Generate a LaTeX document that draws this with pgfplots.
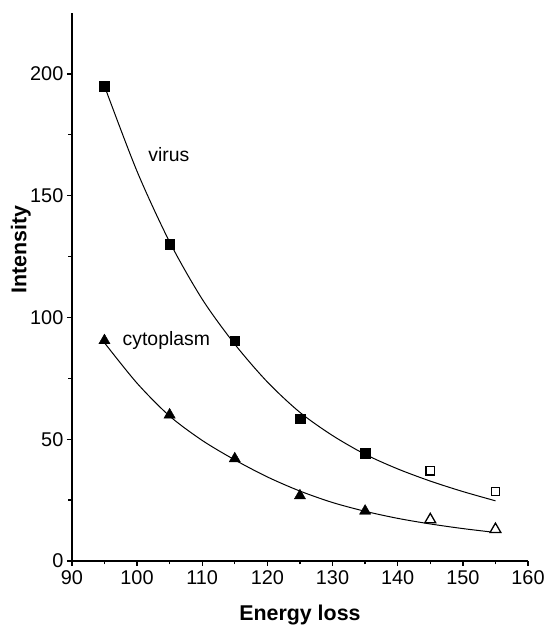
\documentclass[border=0pt]{standalone}
\usepackage{fontspec}
\setmainfont{Liberation Sans}
\usepackage{pgfplots}
\pgfplotsset{compat=1.18}

\begin{document}
\begin{tikzpicture}
  \begin{axis}[
    scale only axis,
    width=457bp,height=549bp,
    xmin=90,xmax=160,ymin=0,ymax=225,
    axis x line*=bottom,axis y line*=left,
    axis line style={line width=1.6bp},
    xtick={90,100,...,160},ytick={0,50,...,200},
    minor x tick num=1,minor y tick num=1,
    tick align=outside,
    major tick length=5bp,minor tick length=3.5bp,
    every tick/.style={line width=1.3bp,black},
    /pgf/number format/assume math mode=true,
    tick label style={font=\fontsize{20}{22}\selectfont},
    xticklabel style={yshift=-1bp},
    xlabel={\textbf{Energy loss}},
    ylabel={\textbf{Intensity}},
    label style={font=\fontsize{21.5}{24}\selectfont},
    xlabel style={at={(axis description cs:0.5,-0.098)},anchor=center},
    ylabel style={at={(axis description cs:-0.112,0.568)},anchor=center},
    clip=false]
    % fitted curves
    \addplot[black,line width=1bp,smooth] coordinates {
      (95,195) (100,160) (105,131) (110,107.5) (115,89) (120,73.5) (125,61)
      (130,51.5) (135,43.8) (140,37.8) (145,32.8) (150,28.5) (155,24.7)};
    \addplot[black,line width=1bp,smooth] coordinates {
      (95,89.6) (100,73) (105,59.5) (110,49.5) (115,41.5) (120,34.5) (125,28.7)
      (130,24) (135,20.4) (140,17.5) (145,15.2) (150,13.3) (155,11.7)};
    % virus
    \addplot[only marks,mark=square*,mark size=4.8bp,black] coordinates {
      (95,195) (105,130) (115,90.5) (125,58.5) (135,44.3)};
    \addplot[only marks,mark=square*,mark size=4.2bp,black,fill=white,line width=1.3bp] coordinates {
      (145,37) (155,28.5)};
    % cytoplasm
    \addplot[only marks,mark=triangle*,mark size=6.5bp,black] coordinates {
      (95,90.5) (105,60) (115,42) (125,26.8) (135,20.5)};
    \addplot[only marks,mark=triangle*,mark size=6.2bp,black,fill=white,line width=1.3bp] coordinates {
      (145,17) (155,13)};
    \node[font=\fontsize{19.5}{21}\selectfont] at (axis cs:104.9,167) {virus};
    \node[font=\fontsize{19.5}{21}\selectfont] at (axis cs:104.5,90.5) {cytoplasm};
    \path (rel axis cs:0,0) ++(-72bp,-66bp) rectangle ++(545bp,628bp);
  \end{axis}
\end{tikzpicture}
\end{document}
